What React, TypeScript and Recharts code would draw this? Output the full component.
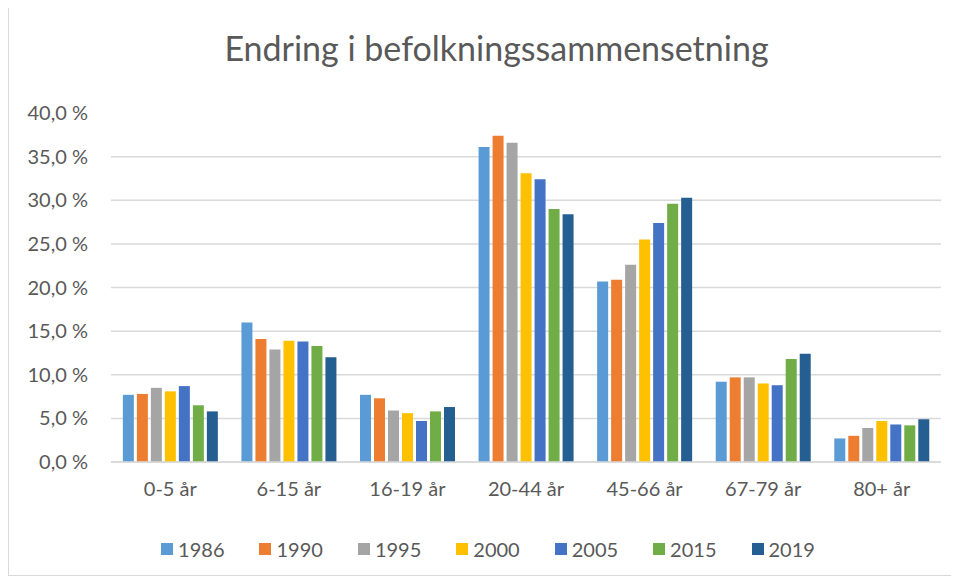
import { BarChart, Bar, XAxis, YAxis, CartesianGrid, Legend } from 'recharts';

const categories = ['0-5 år', '6-15 år', '16-19 år', '20-44 år', '45-66 år', '67-79 år', '80+ år'];

const y1986 = [7.7, 16.0, 7.7, 36.1, 20.7, 9.2, 2.7];
const y1990 = [7.8, 14.1, 7.3, 37.4, 20.9, 9.7, 3.0];
const y1995 = [8.5, 12.9, 5.9, 36.6, 22.6, 9.7, 3.9];
const y2000 = [8.1, 13.9, 5.6, 33.1, 25.5, 9.0, 4.7];
const y2005 = [8.7, 13.8, 4.7, 32.4, 27.4, 8.8, 4.3];
const y2015 = [6.5, 13.3, 5.8, 29.0, 29.6, 11.8, 4.2];
const y2019 = [5.8, 12.0, 6.3, 28.4, 30.3, 12.4, 4.9];

const yTicks = [0, 5, 10, 15, 20, 25, 30, 35, 40];

const series = [
  { key: '1986', values: y1986, color: '#5B9BD5' },
  { key: '1990', values: y1990, color: '#ED7D31' },
  { key: '1995', values: y1995, color: '#A5A5A5' },
  { key: '2000', values: y2000, color: '#FFC000' },
  { key: '2005', values: y2005, color: '#4472C4' },
  { key: '2015', values: y2015, color: '#70AD47' },
  { key: '2019', values: y2019, color: '#255E91' },
];

const data = categories.map((name, i) => {
  const row: Record<string, string | number> = { name };
  series.forEach((s) => {
    row[s.key] = s.values[i];
  });
  return row;
});

const font = 'Lato, "Noto Sans", sans-serif';
const textColor = '#595959';

const fmt = (v: number) => `${v.toFixed(1).replace('.', ',')} %`;

// legend drawn by hand so spacing matches the Excel look
function YearLegend() {
  return (
    <div style={{ display: 'flex', justifyContent: 'center', gap: 35, paddingLeft: 16 }}>
      {series.map((s) => (
        <div key={s.key} style={{ display: 'flex', alignItems: 'center', gap: 5 }}>
          <span style={{ width: 12, height: 12, background: s.color, display: 'inline-block' }} />
          <span style={{ color: textColor, fontSize: 20, fontFamily: font }}>{s.key}</span>
        </div>
      ))}
    </div>
  );
}

export default function App() {
  return (
    <div
      style={{
        position: 'relative',
        width: 951,
        height: 567,
        borderLeft: '1px solid #d9d9d9',
        borderBottom: '1px solid #d9d9d9',
        fontFamily: font,
        background: '#fff',
      }}
    >
      <div
        style={{
          position: 'absolute',
          top: 19,
          left: 12,
          width: 951,
          textAlign: 'center',
          fontSize: 34,
          color: textColor,
        }}
      >
        Endring i befolkningssammensetning
      </div>
      <BarChart
        width={951}
        height={567}
        data={data}
        margin={{ top: 105, right: 19, left: 10, bottom: 49 }}
        barCategoryGap="10%"
        barGap={3}
      >
        <CartesianGrid
          vertical={false}
          stroke="#d9d9d9"
          strokeWidth={1.5}
          horizontalValues={[0, 5, 10, 15, 20, 25, 30, 35]}
        />
        <XAxis
          dataKey="name"
          tickLine={false}
          tickSize={0}
          tickMargin={20}
          axisLine={{ stroke: '#d9d9d9', strokeWidth: 1.5 }}
          tick={{ fill: textColor, fontSize: 20, fontFamily: font }}
          height={40}
        />
        <YAxis
          domain={[0, 40]}
          ticks={yTicks}
          tickFormatter={fmt}
          axisLine={false}
          tickLine={false}
          tickSize={0}
          tickMargin={23}
          width={92}
          tick={{ fill: textColor, fontSize: 20, fontFamily: font }}
        />
        <Legend verticalAlign="bottom" wrapperStyle={{ bottom: 14 }} content={<YearLegend />} />
        {series.map((s) => (
          <Bar key={s.key} dataKey={s.key} fill={s.color} isAnimationActive={false} />
        ))}
      </BarChart>
    </div>
  );
}
